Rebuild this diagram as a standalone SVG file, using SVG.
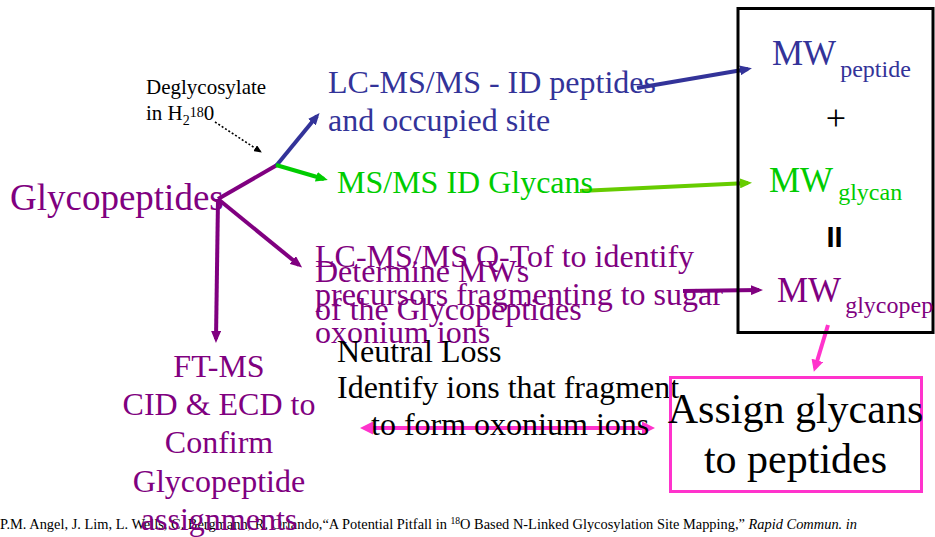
<svg xmlns="http://www.w3.org/2000/svg" width="935" height="537" viewBox="0 0 935 537">
<style>
  text { font-family: "Liberation Serif", "Times New Roman", serif; }
  .t32 { font-size: 32px; }
  .purple { fill: #800080; }
  .blue { fill: #333399; }
  .green { fill: #00cc00; }
  .black { fill: #000000; }
  .ln { fill: none; stroke-width: 4; stroke-linecap: butt; }
</style>
<defs>
  <marker id="ah-purple" markerUnits="userSpaceOnUse" markerWidth="12" markerHeight="10" viewBox="0 0 12 10" refX="8" refY="5" orient="auto"><path d="M0,0 L12,5 L0,10 z" fill="#800080"/></marker>
  <marker id="ah-blue" markerUnits="userSpaceOnUse" markerWidth="12" markerHeight="10" viewBox="0 0 12 10" refX="8" refY="5" orient="auto"><path d="M0,0 L12,5 L0,10 z" fill="#333399"/></marker>
  <marker id="ah-green" markerUnits="userSpaceOnUse" markerWidth="12" markerHeight="10" viewBox="0 0 12 10" refX="8" refY="5" orient="auto"><path d="M0,0 L12,5 L0,10 z" fill="#00cc00"/></marker>
  <marker id="ah-lgreen" markerUnits="userSpaceOnUse" markerWidth="12" markerHeight="10" viewBox="0 0 12 10" refX="8" refY="5" orient="auto"><path d="M0,0 L12,5 L0,10 z" fill="#66cc00"/></marker>
  <marker id="ah-pink" markerUnits="userSpaceOnUse" markerWidth="12" markerHeight="12" viewBox="0 0 12 12" refX="8" refY="6" orient="auto"><path d="M0,0 L12,6 L0,12 z" fill="#ff33cc"/></marker>
  <marker id="ah-pink2" markerUnits="userSpaceOnUse" markerWidth="13" markerHeight="13" viewBox="0 0 13 13" refX="9" refY="6.5" orient="auto-start-reverse"><path d="M0,0 L13,6.5 L0,13 z" fill="#ff33cc"/></marker>
  <marker id="ah-black" markerUnits="userSpaceOnUse" markerWidth="8" markerHeight="7" viewBox="0 0 8 7" refX="7" refY="3.5" orient="auto"><path d="M0,0 L8,3.5 L0,7 z" fill="#000"/></marker>
</defs>
<rect x="0" y="0" width="935" height="537" fill="#ffffff"/>

<g id="citation">
  <text x="0" y="529" font-size="15" textLength="857" lengthAdjust="spacingAndGlyphs" class="black">P.M. Angel, J. Lim, L. Wells, C. Bergmann, R. Orlando,“A Potential Pitfall in <tspan font-size="10" dy="-5">18</tspan><tspan dy="5">O Based N-Linked Glycosylation Site Mapping,” </tspan><tspan font-style="italic">Rapid Commun. in</tspan></text>
</g>

<g id="connectors">
  <line class="ln" x1="277" y1="165" x2="218" y2="199" stroke="#800080"/>
  <line class="ln" x1="218" y1="199" x2="299" y2="265" stroke="#800080" marker-end="url(#ah-purple)"/>
  <line class="ln" x1="218" y1="199" x2="216" y2="339" stroke="#800080" marker-end="url(#ah-purple)"/>
  <line class="ln" x1="276" y1="166" x2="317" y2="116" stroke="#333399" marker-end="url(#ah-blue)"/>
  <line class="ln" x1="276" y1="165" x2="324" y2="179" stroke="#00cc00" marker-end="url(#ah-green)"/>
  <line x1="215" y1="122" x2="261" y2="152" stroke="#000" stroke-width="1.6" stroke-dasharray="2,2" marker-end="url(#ah-black)"/>
  <line class="ln" x1="637" y1="88" x2="748" y2="69" stroke="#333399" marker-end="url(#ah-blue)"/>
  <line class="ln" x1="580" y1="191" x2="748" y2="183" stroke="#66cc00" marker-end="url(#ah-lgreen)"/>
  <line class="ln" x1="683" y1="291" x2="759" y2="290" stroke="#800080" marker-end="url(#ah-purple)"/>
  <line class="ln" x1="828" y1="325" x2="815" y2="368" stroke="#ff33cc" marker-end="url(#ah-pink)"/>
  <line class="ln" x1="364" y1="428" x2="651" y2="428" stroke="#ff33cc" marker-start="url(#ah-pink2)" marker-end="url(#ah-pink2)"/>
</g>

<g id="glycopeptides">
  <text x="10" y="210" font-size="37" class="purple">Glycopeptides</text>
</g>

<g id="deglycosylate">
  <text x="146" y="94" font-size="21" class="black">Deglycosylate</text>
  <text x="146" y="120" font-size="21" class="black">in H<tspan font-size="14" dy="5">2</tspan><tspan font-size="14" dy="-8">18</tspan><tspan dy="3">0</tspan></text>
</g>

<g id="lcms-id-peptides">
  <text x="328" y="93" class="t32 blue">LC-MS/MS - ID peptides</text>
  <text x="328" y="131" class="t32 blue">and occupied site</text>
</g>

<g id="msms-id-glycans">
  <text x="337" y="193" class="t32 green">MS/MS ID Glycans</text>
</g>

<g id="lcms-qtof">
  <text x="315" y="267" class="t32 purple">LC-MS/MS Q-Tof to identify</text>
  <text x="315" y="305" class="t32 purple">precursors fragmenting to sugar</text>
  <text x="315" y="343" class="t32 purple">oxonium ions</text>
</g>

<g id="determine-mws">
  <text x="315" y="282" class="t32 purple">Determine MWs</text>
  <text x="315" y="320" class="t32 purple">of the Glycopeptides</text>
</g>

<g id="neutral-loss">
  <text x="337" y="362" class="t32 black">Neutral Loss</text>
  <text x="337" y="398" class="t32 black">Identify ions that fragment</text>
  <text x="371" y="435" class="t32 black">to form oxonium ions</text>
</g>

<g id="ft-ms">
  <text x="219" y="377" text-anchor="middle" class="t32 purple">FT-MS</text>
  <text x="219" y="415" text-anchor="middle" class="t32 purple">CID &amp; ECD to</text>
  <text x="219" y="453" text-anchor="middle" class="t32 purple">Confirm</text>
  <text x="219" y="492" text-anchor="middle" class="t32 purple">Glycopeptide</text>
  <text x="219" y="530" text-anchor="middle" class="t32 purple">assignments</text>
</g>

<g id="mw-box">
  <rect x="738" y="8.5" width="195" height="324" fill="none" stroke="#000" stroke-width="3"/>
  <text x="772" y="65" font-size="35" class="blue">MW<tspan font-size="24" dx="4" dy="12">peptide</tspan></text>
  <text x="836" y="130" font-size="36" text-anchor="middle" class="black">+</text>
  <text x="769" y="192" font-size="35" class="green">MW<tspan font-size="24" dx="5" dy="8">glycan</tspan></text>
  <text x="826.5" y="247" font-size="29" font-weight="bold" style="font-family:'Liberation Sans', Arial, sans-serif" class="black">II</text>
  <text x="777" y="302" font-size="35" class="purple">MW<tspan font-size="24" dx="4" dy="11">glycopep</tspan></text>
</g>

<g id="assign">
  <rect x="670.5" y="377.5" width="251" height="114" fill="none" stroke="#ff33cc" stroke-width="3"/>
  <text x="795.5" y="423" font-size="42" text-anchor="middle" class="black">Assign glycans</text>
  <text x="795.5" y="473" font-size="42" text-anchor="middle" class="black">to peptides</text>
</g>
</svg>
